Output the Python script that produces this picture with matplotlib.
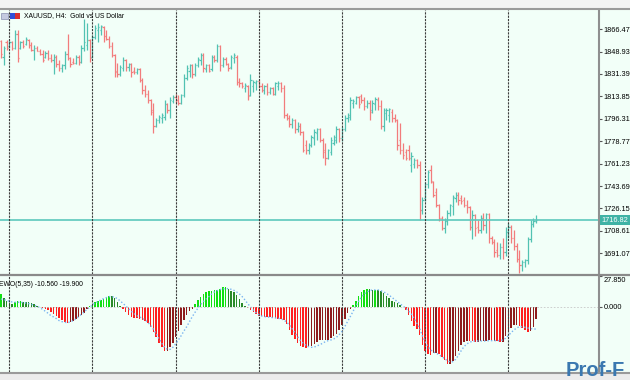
import numpy as np
import matplotlib
matplotlib.use("Agg")
import matplotlib.pyplot as plt
from matplotlib.lines import Line2D
from matplotlib.patches import Rectangle
from matplotlib.transforms import blended_transform_factory

# XAUUSD H4 bars (index 0 = leftmost bar)
opens = [
    1857, 1845, 1856, 1853, 1856, 1852, 1863, 1852, 1856, 1855,
    1858, 1854, 1850, 1852, 1849, 1847, 1845, 1848, 1844, 1842,
    1845, 1839, 1836, 1838, 1847, 1844, 1841, 1840, 1845, 1841,
    1852, 1854, 1858, 1845, 1860, 1866, 1866, 1868, 1861, 1859,
    1853, 1846, 1834, 1831, 1836, 1842, 1837, 1839, 1834, 1833,
    1835, 1827, 1819, 1816, 1811, 1803, 1791, 1795, 1797, 1798,
    1808, 1803, 1810, 1813, 1811, 1809, 1815, 1828, 1834, 1838,
    1831, 1838, 1842, 1846, 1835, 1838, 1835, 1845, 1842, 1853,
    1838, 1843, 1839, 1837, 1844, 1845, 1825, 1824, 1820, 1822,
    1815, 1822, 1824, 1826, 1822, 1819, 1822, 1817, 1820, 1816,
    1822, 1824, 1820, 1799, 1797, 1792, 1795, 1788, 1791, 1786,
    1776, 1772, 1776, 1781, 1785, 1788, 1780, 1772, 1766, 1770,
    1777, 1780, 1788, 1781, 1788, 1797, 1798, 1809, 1809, 1813,
    1814, 1811, 1806, 1809, 1803, 1808, 1811, 1806, 1791, 1801,
    1799, 1802, 1797, 1795, 1780, 1772, 1770, 1772, 1760, 1761,
    1764, 1760, 1725, 1734, 1745, 1756, 1747, 1739, 1729, 1719,
    1711, 1716, 1723, 1728, 1734, 1737, 1734, 1733, 1729, 1727,
    1712, 1721, 1712, 1709, 1719, 1713, 1722, 1703, 1700, 1694,
    1690, 1696, 1692, 1708, 1712, 1703, 1697, 1687, 1682, 1684,
    1686, 1702, 1714, 1716,
]
highs = [
    1858, 1853, 1858, 1858, 1857, 1866, 1866, 1857, 1858, 1860,
    1859, 1856, 1854, 1853, 1851, 1850, 1849, 1850, 1847, 1847,
    1846, 1842, 1839, 1849, 1863, 1845, 1844, 1846, 1846, 1854,
    1874, 1871, 1859, 1862, 1870, 1871, 1870, 1869, 1866, 1861,
    1856, 1847, 1840, 1838, 1845, 1843, 1840, 1840, 1837, 1836,
    1836, 1828, 1823, 1819, 1812, 1809, 1797, 1799, 1801, 1811,
    1809, 1813, 1815, 1816, 1815, 1816, 1831, 1838, 1839, 1839,
    1840, 1845, 1848, 1848, 1839, 1839, 1846, 1846, 1855, 1854,
    1845, 1845, 1840, 1846, 1848, 1846, 1828, 1825, 1824, 1823,
    1831, 1827, 1827, 1827, 1824, 1823, 1824, 1821, 1821, 1825,
    1826, 1825, 1823, 1801, 1799, 1797, 1796, 1794, 1793, 1787,
    1780, 1777, 1784, 1788, 1789, 1789, 1781, 1777, 1773, 1782,
    1784, 1791, 1789, 1790, 1799, 1801, 1813, 1812, 1814, 1814,
    1816, 1813, 1811, 1811, 1811, 1813, 1813, 1811, 1805, 1805,
    1805, 1804, 1800, 1796, 1793, 1777, 1773, 1776, 1770, 1766,
    1765, 1763, 1735, 1747, 1756, 1760, 1748, 1742, 1730, 1720,
    1719, 1725, 1730, 1737, 1739, 1739, 1737, 1735, 1733, 1728,
    1725, 1722, 1717, 1721, 1723, 1723, 1723, 1705, 1702, 1700,
    1699, 1703, 1712, 1715, 1713, 1709, 1699, 1694, 1686, 1687,
    1704, 1717, 1719, 1721,
]
lows = [
    1844, 1838, 1850, 1852, 1850, 1851, 1841, 1851, 1852, 1854,
    1852, 1849, 1842, 1849, 1846, 1841, 1844, 1842, 1841, 1831,
    1837, 1834, 1833, 1835, 1842, 1837, 1839, 1839, 1838, 1840,
    1849, 1850, 1841, 1844, 1859, 1856, 1862, 1856, 1858, 1852,
    1845, 1829, 1829, 1830, 1834, 1834, 1834, 1829, 1831, 1831,
    1825, 1816, 1813, 1809, 1799, 1785, 1790, 1793, 1793, 1795,
    1801, 1797, 1809, 1809, 1807, 1808, 1813, 1827, 1829, 1828,
    1830, 1837, 1838, 1833, 1833, 1833, 1834, 1841, 1841, 1834,
    1837, 1838, 1834, 1835, 1840, 1823, 1821, 1820, 1817, 1811,
    1814, 1817, 1819, 1820, 1817, 1816, 1815, 1816, 1815, 1815,
    1819, 1817, 1797, 1795, 1790, 1789, 1785, 1786, 1784, 1770,
    1769, 1769, 1774, 1776, 1780, 1778, 1766, 1760, 1765, 1768,
    1776, 1777, 1778, 1779, 1787, 1794, 1795, 1805, 1808, 1805,
    1809, 1803, 1805, 1795, 1801, 1803, 1803, 1788, 1787, 1795,
    1794, 1794, 1794, 1772, 1769, 1765, 1764, 1764, 1755, 1758,
    1758, 1717, 1722, 1732, 1742, 1746, 1735, 1727, 1716, 1709,
    1707, 1713, 1720, 1721, 1731, 1729, 1730, 1727, 1723, 1709,
    1702, 1705, 1707, 1707, 1709, 1707, 1699, 1698, 1688, 1688,
    1687, 1687, 1689, 1703, 1699, 1694, 1684, 1676, 1677, 1680,
    1683, 1700, 1712, 1715,
]
closes = [
    1847, 1852, 1852, 1856, 1852, 1863, 1844, 1856, 1853, 1859,
    1854, 1850, 1852, 1849, 1847, 1842, 1848, 1844, 1842, 1845,
    1839, 1836, 1838, 1847, 1844, 1839, 1840, 1845, 1841, 1852,
    1856, 1858, 1844, 1860, 1867, 1868, 1869, 1861, 1859, 1853,
    1846, 1833, 1831, 1837, 1842, 1837, 1839, 1833, 1833, 1835,
    1827, 1819, 1816, 1811, 1802, 1791, 1795, 1798, 1799, 1808,
    1803, 1811, 1813, 1811, 1809, 1815, 1828, 1836, 1838, 1831,
    1838, 1843, 1846, 1836, 1838, 1834, 1845, 1842, 1853, 1838,
    1843, 1839, 1836, 1845, 1846, 1825, 1824, 1822, 1823, 1814,
    1827, 1825, 1826, 1822, 1819, 1822, 1817, 1820, 1816, 1824,
    1824, 1820, 1799, 1797, 1792, 1795, 1788, 1791, 1786, 1772,
    1772, 1776, 1782, 1786, 1788, 1780, 1770, 1766, 1772, 1780,
    1782, 1788, 1781, 1788, 1797, 1799, 1811, 1810, 1813, 1808,
    1811, 1806, 1809, 1802, 1809, 1812, 1806, 1791, 1803, 1803,
    1804, 1797, 1795, 1776, 1772, 1768, 1766, 1766, 1767, 1764,
    1760, 1725, 1733, 1745, 1755, 1748, 1737, 1729, 1719, 1711,
    1716, 1723, 1729, 1735, 1737, 1733, 1732, 1729, 1727, 1712,
    1721, 1711, 1709, 1719, 1713, 1722, 1703, 1700, 1692, 1690,
    1696, 1692, 1708, 1712, 1703, 1697, 1687, 1682, 1684, 1686,
    1702, 1714, 1716, 1716.82,
]

# EWO(5,35) histogram and its dotted signal line
ewo = [
    11.4, 7.8, 5.4, 3.6, 3.0, 4.2, 5.1, 5.4, 4.8, 4.5,
    4.2, 3.6, 2.4, 1.2, 0.3, -0.6, -1.8, -3.0, -4.5, -6.0,
    -7.8, -9.6, -11.7, -13.5, -14.1, -13.5, -12.6, -11.1, -9.3, -7.5,
    -5.1, -2.1, 1.2, 2.7, 4.2, 5.4, 6.3, 7.5, 9.3, 10.2,
    9.9, 8.4, 4.8, 0.9, -1.8, -4.5, -7.2, -9.0, -9.9, -10.2,
    -10.5, -11.4, -12.6, -14.7, -18.3, -22.2, -27.3, -32.1, -36.3, -39.3,
    -39.3, -36.3, -32.1, -26.7, -21.3, -16.2, -11.7, -7.5, -3.9, -1.5,
    2.4, 6.3, 9.3, 11.4, 13.2, 14.4, 14.7, 15.3, 15.6, 16.5,
    17.7, 17.7, 16.5, 14.7, 13.2, 10.5, 7.5, 3.9, 0.9, -0.9,
    -2.4, -4.5, -6.3, -7.8, -8.4, -8.7, -9.0, -9.3, -9.9, -10.2,
    -10.5, -11.1, -11.7, -15.6, -20.7, -25.2, -29.1, -32.7, -34.8, -36.0,
    -36.9, -36.3, -34.8, -33.0, -31.2, -29.7, -29.7, -29.7, -29.4, -28.2,
    -26.4, -24.3, -20.7, -16.2, -10.5, -5.7, -2.1, 1.5, 5.7, 9.9,
    13.5, 15.6, 16.2, 15.9, 15.3, 15.3, 15.0, 14.1, 12.3, 9.6,
    7.8, 5.4, 4.2, 3.3, 1.8, -0.3, -2.7, -7.5, -12.3, -17.1,
    -20.1, -25.2, -34.2, -39.3, -42.3, -43.2, -41.7, -41.7, -42.3, -44.7,
    -47.7, -51.3, -51.3, -48.3, -44.1, -39.3, -34.5, -31.5, -30.3, -30.6,
    -30.9, -31.8, -31.8, -30.9, -30.6, -30.3, -29.7, -30.3, -30.3, -30.9,
    -31.8, -31.2, -26.1, -21.9, -19.2, -15.9, -15.9, -17.4, -19.2, -21.0,
    -22.5, -21.9, -17.7, -10.56,
]
signal = [
    7.2, 6.6, 6.0, 5.1, 4.5, 4.2, 4.2, 4.2, 3.9, 3.6,
    3.0, 2.4, 1.5, 0.6, -0.6, -2.1, -3.9, -5.7, -7.8, -9.0,
    -10.5, -12.3, -13.2, -13.8, -14.1, -13.5, -12.3, -10.8, -8.7, -6.6,
    -4.5, -2.1, -0.3, 1.8, 3.6, 4.8, 6.3, 7.5, 8.4, 9.3,
    9.3, 8.7, 7.5, 5.4, 3.3, 0.9, -1.5, -3.9, -6.0, -7.8,
    -9.0, -10.2, -11.7, -13.8, -16.8, -20.1, -24.3, -28.5, -32.7, -36.3,
    -38.1, -38.1, -36.3, -33.3, -29.7, -25.8, -21.6, -17.7, -13.2, -8.7,
    -4.8, -1.2, 2.1, 4.8, 7.2, 9.3, 11.7, 13.5, 14.7, 15.6,
    16.2, 16.5, 16.5, 15.9, 15.0, 13.5, 11.7, 9.3, 6.3, 3.0,
    0.0, -2.7, -5.1, -6.9, -8.1, -8.7, -9.0, -9.3, -9.6, -9.9,
    -10.2, -10.8, -11.7, -13.5, -16.2, -19.5, -23.1, -26.7, -30.3, -32.7,
    -34.5, -35.7, -36.3, -36.0, -35.1, -33.9, -32.7, -31.2, -30.3, -29.7,
    -28.8, -27.3, -24.9, -21.9, -17.7, -13.2, -8.7, -3.9, 0.9, 5.1,
    8.7, 11.7, 13.5, 14.7, 15.3, 15.3, 15.3, 14.7, 13.5, 12.3,
    10.5, 8.7, 6.6, 4.8, 2.7, 0.9, -1.2, -3.6, -6.3, -10.2,
    -14.7, -19.2, -26.1, -31.2, -35.7, -38.7, -40.5, -41.7, -42.9, -44.7,
    -46.5, -48.3, -49.5, -49.2, -47.1, -43.5, -39.3, -35.7, -33.3, -31.8,
    -30.9, -30.6, -30.6, -30.6, -30.6, -30.6, -30.3, -30.3, -30.3, -30.3,
    -30.3, -29.7, -28.2, -25.8, -23.1, -20.7, -18.9, -17.7, -17.7, -18.3,
    -18.9, -19.5, -19.8, -19.9,
]

price_ticks = [1866.47, 1848.93, 1831.39, 1813.85, 1796.31, 1778.77,
               1761.23, 1743.69, 1726.15, 1708.61, 1691.07]
ewo_top = 27.85
week_starts = [3, 33, 63, 93, 123, 153, 183]
last_price = 1716.82

title = "XAUUSD, H4:  Gold vs US Dollar"
ewo_label = "EWO(5,35) -10.560 -19.900"

# colours
BG = "#f2fff8"
UP = "#52c2b2"
DOWN = "#f27c7c"
SEP = "#3c3c3c"
FRAME = "#8f8f8f"

plt.rcParams["font.family"] = ["Liberation Sans", "DejaVu Sans"]
AXFS = 5.3

W, H = 630, 380


def rect(x0, y0, x1, y1):
    # pixel box (top-left origin) -> figure fraction
    return [x0 / W, 1 - y1 / H, (x1 - x0) / W, (y1 - y0) / H]


def fig_hline(fig, x0, x1, y, color, lw):
    fig.add_artist(Line2D([x0 / W, x1 / W], [1 - y / H, 1 - y / H],
                          color=color, lw=lw))


fig = plt.figure(figsize=(6.3, 3.8), dpi=100, facecolor=BG)

# strips above and below the chart
fig.add_artist(Rectangle((0, 1 - 8 / H), 1, 8 / H, transform=fig.transFigure,
                         facecolor="#f3f3f3", edgecolor="none"))
fig.add_artist(Rectangle((0, 0), 1, 7 / H, transform=fig.transFigure,
                         facecolor="#ececec", edgecolor="none"))

ax = fig.add_axes(rect(0, 10, 599, 274), facecolor=BG)
ax2 = fig.add_axes(rect(0, 276, 599, 372), facecolor=BG)

x = np.arange(len(closes))
o = np.array(opens)
h = np.array(highs)
l = np.array(lows)
c = np.array(closes)
bar_cols = np.where(c >= o, UP, DOWN)

# OHLC bars
ax.vlines(x, l, h, colors=bar_cols, lw=0.9)
ax.hlines(o, x - 0.45, x, colors=bar_cols, lw=0.9)
ax.hlines(c, x, x + 0.45, colors=bar_cols, lw=0.9)

ax.axhline(last_price, color="#5cc8bc", lw=1.2)
for w in week_starts:
    ax.axvline(w, color=SEP, lw=0.8, ls=(0, (2, 1)))
    ax2.axvline(w, color=SEP, lw=0.8, ls=(0, (2, 1)))

xlim = (-0.35, 215.7)
ax.set_xlim(*xlim)
ax.set_ylim(1674.9, 1881.4)
ax.set_yticks(price_ticks)
ax.set_yticklabels([f"{t:.2f}" for t in price_ticks])

# price tag on the axis
tr = blended_transform_factory(ax.transAxes, ax.transData)
ax.text(1.004, last_price, f"{last_price:.2f}", transform=tr, ha="left", va="center",
        fontsize=AXFS, color="white",
        bbox=dict(boxstyle="square,pad=0.2", facecolor="#3fb3a5", edgecolor="none"))

# EWO histogram: bright when moving away from zero, dark when coming back
hist_cols = []
for i, v in enumerate(ewo):
    rising = i == 0 or v >= ewo[i - 1]
    if v >= 0:
        hist_cols.append("#11e011" if rising else "#2a8a2a")
    else:
        hist_cols.append("#8e1c1c" if rising else "#ff2020")
ax2.bar(x, ewo, width=0.55, color=hist_cols, linewidth=0)
ax2.plot(x, signal, color="#7ab4f0", lw=1.0, ls=(0, (1, 1.5)))
ax2.axhline(0, color="#c8c8c8", lw=0.6, ls=(0, (2, 2)))
ax2.set_xlim(*xlim)
ax2.set_ylim(-58.5, ewo_top)
ax2.set_yticks([ewo_top, 0.0])
ax2.set_yticklabels(["", "0.000"])
tr2 = blended_transform_factory(ax2.transAxes, ax2.transData)
ax2.text(1.0 + 4.5 / 599, ewo_top - 1.0, f"{ewo_top:.3f}", transform=tr2,
         ha="left", va="top", fontsize=AXFS, color="black")

for a in (ax, ax2):
    a.set_xticks([])
    a.yaxis.tick_right()
    a.tick_params(axis="y", length=2.5, width=0.8, color="#555555", pad=1.0,
                  labelsize=AXFS, labelcolor="black")
    for side in ("top", "bottom", "left"):
        a.spines[side].set_visible(False)
    a.spines["right"].set_color(FRAME)
    a.spines["right"].set_linewidth(1.5)

# window frame lines
fig_hline(fig, 0, 630, 8.5, "#9a9a9a", 1.5)
fig_hline(fig, 0, 630, 275, "#8a8a8a", 1.6)
fig_hline(fig, 0, 630, 373, "#9a9a9a", 1.5)

# chart header: symbol icons and title
fig.add_artist(Rectangle((1 / W, 1 - 19 / H), 7 / W, 6 / H, transform=fig.transFigure,
                         facecolor="#c4cbe0", edgecolor="#8890b0", lw=0.5))
fig.add_artist(Rectangle((10 / W, 1 - 19 / H), 5 / W, 6 / H, transform=fig.transFigure,
                         facecolor="#3050d8", edgecolor="none"))
fig.add_artist(Rectangle((15 / W, 1 - 19 / H), 5 / W, 6 / H, transform=fig.transFigure,
                         facecolor="#d83030", edgecolor="none"))
fig.text(24 / W, 1 - 16 / H, title, fontsize=4.9, va="center", color="black")
fig.text(-1 / W, 1 - 284 / H, ewo_label, fontsize=4.9, va="center", color="black")

# site watermark in the corner
fig.text(566 / W, 1 - 376 / H, "Prof-F", fontsize=14.5, fontweight="bold",
         color="#3a78b0", va="baseline", ha="left")

fig.savefig("out.png", dpi=100, facecolor=BG)
